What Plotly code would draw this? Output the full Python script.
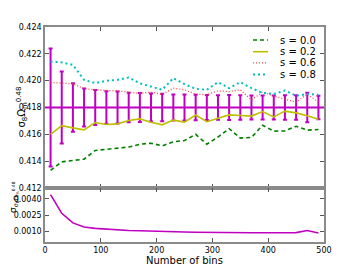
import plotly.graph_objects as go

# ---- data ----
bins = [10, 30, 50, 70, 90, 110, 130, 150, 170, 190, 210, 230, 250,
        270, 290, 310, 330, 350, 370, 390, 410, 430, 450, 470, 490]

s00 = [0.41332, 0.41395, 0.41405, 0.41415, 0.41480, 0.41487, 0.41497, 0.41505,
       0.41526, 0.41534, 0.41514, 0.41544, 0.41554, 0.41600, 0.41526, 0.41580,
       0.41642, 0.41572, 0.41577, 0.41668, 0.41624, 0.41626, 0.41660, 0.41631, 0.41636]

s02 = [0.41600, 0.41665, 0.41648, 0.41633, 0.41688, 0.41673, 0.41678, 0.41703,
       0.41715, 0.41690, 0.41671, 0.41706, 0.41691, 0.41744, 0.41694, 0.41722,
       0.41745, 0.41740, 0.41736, 0.41770, 0.41730, 0.41773, 0.41760, 0.41738, 0.41712]

s06 = [0.41987, 0.41982, 0.41977, 0.41940, 0.41932, 0.41927, 0.41924, 0.41912,
       0.41905, 0.41915, 0.41898, 0.41944, 0.41932, 0.41900, 0.41895, 0.41924,
       0.41919, 0.41932, 0.41857, 0.41915, 0.41885, 0.41862, 0.41838, 0.41900, 0.41840]

s08 = [0.42143, 0.42136, 0.42118, 0.42006, 0.41982, 0.41999, 0.42006, 0.42024,
       0.41980, 0.41955, 0.41932, 0.42019, 0.41974, 0.41939, 0.41932, 0.41989,
       0.41944, 0.41989, 0.41944, 0.41909, 0.41900, 0.41927, 0.41887, 0.41900, 0.41895]

sigma = [0.00440, 0.00268, 0.00180, 0.00142, 0.00130, 0.00122, 0.00120, 0.00110,
         0.00108, 0.00104, 0.00102, 0.00097, 0.00096, 0.00095, 0.00093, 0.00092,
         0.00093, 0.00091, 0.00090, 0.00090, 0.00090, 0.00091, 0.00091, 0.00110, 0.00088]

fiducial = 0.418

names = ["s = 0.0", "s = 0.2", "s = 0.6", "s = 0.8"]
series = [s00, s02, s06, s08]

# ---- styles ----
styles = [
    dict(color="#008000", width=1.6, dash="4px,3px"),
    dict(color="#bfbf00", width=1.6, dash="solid"),
    dict(color="#ff4040", width=1.3, dash="1px,2px"),
    dict(color="#00bfbf", width=2.0, dash="2px,3px"),
]
MAG = "#c000c0"
FONT = "DejaVu Sans"
AX = "#8a8a8a"

fig = go.Figure()

# error bars around fiducial
fig.add_trace(go.Scatter(
    x=bins, y=[fiducial] * len(bins), mode="markers",
    marker=dict(size=1, color="rgba(0,0,0,0)"),
    error_y=dict(type="data", array=sigma, color=MAG, thickness=2, width=2),
    showlegend=False, hoverinfo="skip", xaxis="x", yaxis="y"))

for ys, st, nm in zip(series, styles, names):
    fig.add_trace(go.Scatter(x=bins, y=ys, mode="lines", name=nm,
                             line=st, showlegend=False, xaxis="x", yaxis="y"))

fig.add_trace(go.Scatter(x=bins, y=sigma, mode="lines",
                         line=dict(color=MAG, width=1.6),
                         showlegend=False, xaxis="x2", yaxis="y2"))

# fiducial line
fig.add_shape(type="line", xref="x domain", yref="y", x0=0, x1=1,
              y0=fiducial, y1=fiducial, line=dict(color=MAG, width=2))

# manual legend
W, H = 279.0, 215.0
L, T = 45.0, 27.0
def px2paper(px, py):
    return (px - L) / W, 1 - (py - T) / H

rows = [40, 51.7, 62.9, 74.6]
for nm, st, py in zip(names, styles, rows):
    x0, yy = px2paper(253, py)
    x1, _ = px2paper(268, py)
    fig.add_shape(type="line", xref="paper", yref="paper", x0=x0, x1=x1,
                  y0=yy, y1=yy, line=st)
    xt, _ = px2paper(278, py)
    fig.add_annotation(xref="paper", yref="paper", x=xt, y=yy, text=nm,
                       showarrow=False, xanchor="left", yanchor="middle",
                       font=dict(family=FONT, size=10, color="black"))

split = 54.0 / H
axcommon = dict(showline=True, linecolor=AX, linewidth=1.5, mirror="ticks",
                ticks="inside", ticklen=4, tickcolor="#555555", tickwidth=1,
                showgrid=False, zeroline=False,
                tickfont=dict(family=FONT, size=8, color="black"))

fig.update_layout(
    width=360, height=270,
    margin=dict(l=45, r=36, t=27, b=28),
    paper_bgcolor="white", plot_bgcolor="white",
    xaxis=dict(domain=[0, 1], anchor="y", range=[0, 500],
               tickvals=[0, 100, 200, 300, 400, 500], showticklabels=False,
               **axcommon),
    yaxis=dict(domain=[split, 1], anchor="x", range=[0.412, 0.424],
               tickvals=[0.412, 0.414, 0.416, 0.418, 0.420, 0.422, 0.424],
               tickformat=".3f", **axcommon),
    xaxis2=dict(domain=[0, 1], anchor="y2", range=[0, 500],
                tickvals=[0, 100, 200, 300, 400, 500], **axcommon),
    yaxis2=dict(domain=[0, split], anchor="x2", range=[0.00005, 0.005],
                tickvals=[0.0010, 0.0025, 0.0040], tickformat=".4f",
                **axcommon),
    showlegend=False,
)

xa, ya = px2paper(12, 107.5)
fig.add_annotation(xref="paper", yref="paper", x=xa, y=ya,
                   text="σ<sub>8</sub>Ω<sub>m</sub><sup>0.48</sup>",
                   textangle=-90, showarrow=False,
                   font=dict(family=FONT, size=10, color="black"))
xb, yb = px2paper(6, 215)
fig.add_annotation(xref="paper", yref="paper", x=xb, y=yb,
                   text="σ<sub>σ<sub>8</sub>Ω<sub>m</sub><sup>0.48</sup></sub>",
                   textangle=-90, showarrow=False,
                   font=dict(family=FONT, size=9, color="black"))
xc, yc = px2paper(184.5, 260)
fig.add_annotation(xref="paper", yref="paper", x=xc, y=yc,
                   text="Number of bins", showarrow=False,
                   xanchor="center", yanchor="middle",
                   font=dict(family=FONT, size=10, color="black"))

fig.write_html("out.html",
               config={"displayModeBar": False},
               post_script="document.body.style.margin='0';"
                           "document.body.style.overflow='hidden';")
